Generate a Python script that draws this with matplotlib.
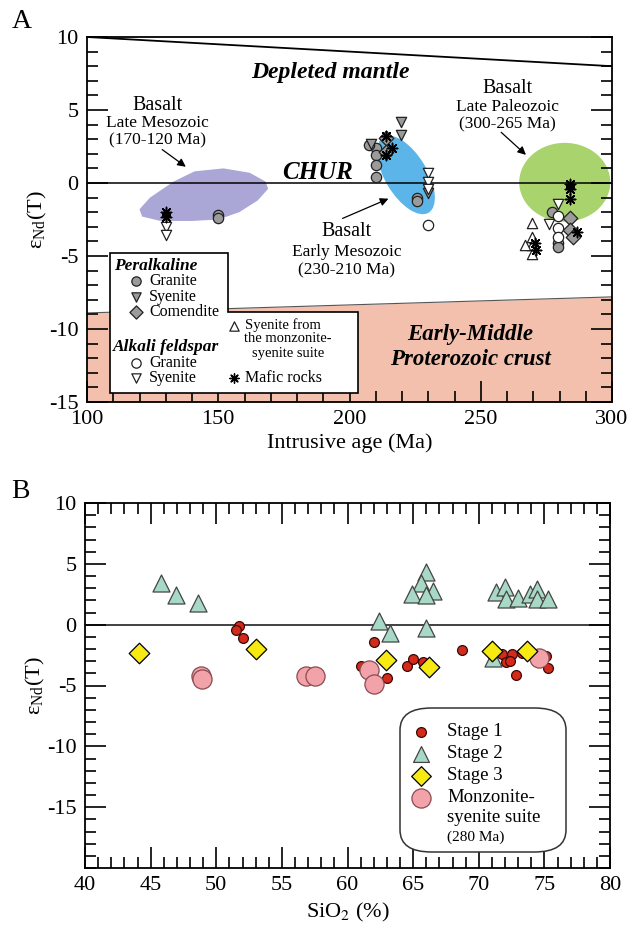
import numpy as np
import matplotlib
matplotlib.use("Agg")
import matplotlib.pyplot as plt
from matplotlib.patches import Ellipse, Polygon, FancyBboxPatch
from matplotlib import transforms

plt.rcParams['font.family'] = ['Liberation Serif', 'DejaVu Serif']
plt.rcParams['mathtext.fontset'] = 'stix'
plt.rcParams['axes.unicode_minus'] = False

# ---------------- Panel A data (age in Ma, eps Nd) ----------------
per_granite_age = [150, 150, 210, 210, 210, 210, 207.5, 225.6, 225.6, 277, 279.5, 279.5]
per_granite_eps = [-2.2, -2.4, 2.4, 1.9, 1.2, 0.4, 2.6, -1.0, -1.2, -2.0, -4.1, -4.4]
per_syenite_age = [219.6, 219.6, 208, 230]
per_syenite_eps = [4.2, 3.3, 2.7, -0.7]
comendite_age = [214, 214, 284, 284, 285]
comendite_eps = [3.1, 2.1, -2.4, -3.2, -3.7]
alk_granite_age = [230, 279.5, 279.5, 279.5]
alk_granite_eps = [-2.9, -2.25, -3.1, -3.7]
alk_syenite_age = [130, 130, 230, 230, 230, 279.5, 276]
alk_syenite_eps = [-3.0, -3.55, 0.7, 0.1, -0.4, -1.45, -2.8]
monz_syenite_age = [269.5, 269.5, 269.5, 269.5, 267]
monz_syenite_eps = [-2.75, -3.7, -4.25, -4.85, -4.25]
mafic_age = [130, 130, 214, 214, 216, 284, 284, 284, 286.7, 270.7, 271]
mafic_eps = [-2.0, -2.3, 3.2, 1.9, 2.4, -0.1, -0.4, -1.1, -3.35, -4.1, -4.6]

depleted_age = [100, 300]
depleted_eps = [10, 8]
crust_age = [100, 300]
crust_top = [-8.9, -7.8]

late_meso_field = [(120, -1.8), (124, -1.0), (133, 0.1), (141, 0.8), (152, 1.0),
                   (162, 0.7), (168, 0.1), (169, -0.4), (165, -1.2), (158, -2.0),
                   (150, -2.5), (140, -2.6), (128, -2.6), (121, -2.3)]

# ---------------- Panel B data (SiO2 %, eps Nd) ----------------
stage1_si = [51.75, 51.5, 52.0, 62.0, 61.0, 63.0, 64.5, 65.0, 65.75, 68.7, 71.75,
             72.1, 72.5, 72.4, 72.8, 73.3, 75.1, 75.3]
stage1_eps = [-0.15, -0.4, -1.1, -1.45, -3.4, -4.4, -3.4, -2.8, -3.1, -2.1, -2.4,
              -3.1, -2.4, -3.0, -4.1, -2.3, -2.6, -3.6]
stage2_si = [45.8, 46.9, 48.6, 66.0, 65.6, 66.5, 64.9, 66.0, 62.4, 63.2, 66.0,
             71.3, 72.0, 72.1, 73.0, 73.9, 74.4, 74.4, 75.3, 71.1]
stage2_eps = [3.4, 2.4, 1.8, 4.3, 3.4, 2.8, 2.5, 2.4, 0.3, -0.7, -0.25,
              2.65, 3.1, 2.15, 2.2, 2.55, 2.95, 2.15, 2.15, -2.7]
stage3_si = [44.1, 53.0, 62.9, 66.2, 71.0, 73.7]
stage3_eps = [-2.3, -2.0, -2.9, -3.5, -2.2, -2.2]
monz_si = [48.8, 48.9, 56.8, 57.5, 61.65, 62.0, 74.6]
monz_eps = [-4.2, -4.5, -4.2, -4.2, -3.7, -4.85, -2.7]

GRAY = '#9b9b9b'
EC = '#222222'

fig = plt.figure(figsize=(6.3, 9.33), dpi=100)
axA = fig.add_axes([87 / 630, 1 - 402 / 933, 525 / 630, 365 / 933])
axB = fig.add_axes([85 / 630, 1 - 868 / 933, 525 / 630, 365 / 933])


def style_ticks(ax, top=True):
    ax.tick_params(which='major', direction='in', length=15, width=1.2,
                   labelsize=16, right=True, top=top, pad=6)
    ax.tick_params(which='minor', direction='in', length=8, width=1.2,
                   right=True, top=top)
    for s in ax.spines.values():
        s.set_linewidth(1.3)


# ======================= Panel A =======================
ax = axA
ax.set_xlim(100, 300)
ax.set_ylim(-15, 10)
ax.set_xticks([100, 150, 200, 250, 300])
ax.set_xticks(np.arange(100, 301, 10), minor=True)
ax.set_yticks([-15, -10, -5, 0, 5, 10])
ax.set_yticks(np.arange(-15, 11, 1), minor=True)
style_ticks(ax, top=False)

ax.fill_between(crust_age, crust_top, [-15, -15], color='#f3c0ad', lw=0, zorder=1)
ax.plot(crust_age, crust_top, color='#555555', lw=0.8, zorder=1.5)
ax.plot(depleted_age, depleted_eps, color='black', lw=1.3, zorder=2)
ax.axhline(0, color='black', lw=1.1, zorder=2)

ax.add_patch(Polygon(late_meso_field, closed=True, fc='#aaa6d6', ec='none', zorder=1.2))
kx, ky = 2.625, 14.6  # pixels per data unit
tr = transforms.Affine2D().scale(1 / kx, 1 / ky).translate(221.5, 0.55) + ax.transData
ax.add_patch(Ellipse((0, 0), 88, 42, angle=-59, fc='#5cb5e8', ec='none', transform=tr, zorder=1.2))
ax.add_patch(Ellipse((282, 0.05), 34.7, 5.4, fc='#a9d36c', ec='none', zorder=1.2))

ax.text(192.6, 7.6, 'Depleted mantle', fontsize=17, fontweight='bold', style='italic',
        ha='center', va='center', zorder=3)
ax.text(188, 0.75, 'CHUR', fontsize=18, fontweight='bold', style='italic',
        ha='center', va='center', zorder=3)
ax.text(246, -10.4, 'Early-Middle', fontsize=16.5, fontweight='bold', style='italic',
        ha='center', va='center', zorder=3)
ax.text(246, -12.1, 'Proterozoic crust', fontsize=16.5, fontweight='bold', style='italic',
        ha='center', va='center', zorder=3)

for cx, ys, lines in [(127, [5.3, 4.1, 2.9], ['Basalt', 'Late Mesozoic', '(170-120 Ma)']),
                      (199, [-3.35, -4.7, -6.0], ['Basalt', 'Early Mesozoic', '(230-210 Ma)']),
                      (260, [6.5, 5.2, 4.0], ['Basalt', 'Late Paleozoic', '(300-265 Ma)'])]:
    for y, t, fs in zip(ys, lines, [14.5, 12.5, 12.5]):
        ax.text(cx, y, t, fontsize=fs, ha='center', va='center', zorder=3)

arrow = dict(arrowstyle='-|>', color='black', lw=0.9, mutation_scale=12)
ax.annotate('', xy=(138.5, 1.0), xytext=(127.8, 2.4), arrowprops=arrow, zorder=3)
ax.annotate('', xy=(215.8, -1.0), xytext=(196.4, -2.5), arrowprops=arrow, zorder=3)
ax.annotate('', xy=(268, 1.8), xytext=(257, 3.6), arrowprops=arrow, zorder=3)

ms = 55
ax.scatter(per_granite_age, per_granite_eps, s=ms, marker='o', fc=GRAY, ec=EC, lw=0.9, zorder=4)
ax.scatter(per_syenite_age, per_syenite_eps, s=ms, marker='v', fc=GRAY, ec=EC, lw=0.9, zorder=4)
ax.scatter(comendite_age, comendite_eps, s=ms, marker='D', fc=GRAY, ec=EC, lw=0.9, zorder=4)
ax.scatter(alk_granite_age, alk_granite_eps, s=ms, marker='o', fc='white', ec=EC, lw=0.9, zorder=4)
ax.scatter(alk_syenite_age, alk_syenite_eps, s=ms, marker='v', fc='white', ec=EC, lw=0.9, zorder=4)
ax.scatter(monz_syenite_age, monz_syenite_eps, s=ms, marker='^', fc='white', ec=EC, lw=0.9, zorder=4)
ax.scatter(mafic_age, mafic_eps, s=55, marker=(8, 2, 0), c='black', lw=1.1, zorder=5)

ax.set_xlabel('Intrusive age (Ma)', fontsize=16, labelpad=3)
ax.set_ylabel(r'$\mathregular{\varepsilon_{Nd}}$(T)', fontsize=16, labelpad=0)

# legend for panel A drawn as a notched box
def A(px, py):
    return ((px - 87) / 525, (402 - py) / 365)

box = [A(110, 253), A(228, 253), A(228, 312), A(358, 312), A(358, 393), A(110, 393)]
ax.add_patch(Polygon(box, closed=True, fc='white', ec='black', lw=1.2,
                     transform=ax.transAxes, zorder=6))
lfs = 11.5
tA = ax.transAxes
ax.text(*A(114, 266), 'Peralkaline', fontsize=12.5, fontweight='bold', style='italic',
        va='center', transform=tA, zorder=7)
ax.text(*A(113, 347), 'Alkali feldspar', fontsize=12.5, fontweight='bold', style='italic',
        va='center', transform=tA, zorder=7)
leg_items = [(281, 'o', GRAY, 'Granite'), (297, 'v', GRAY, 'Syenite'),
             (312, 'D', GRAY, 'Comendite'), (363, 'o', 'white', 'Granite'),
             (378, 'v', 'white', 'Syenite')]
for py, mk, fc, lab in leg_items:
    ax.scatter(*A(136, py), s=45, marker=mk, fc=fc, ec=EC, lw=0.9, transform=tA, zorder=7)
    ax.text(*A(149, py), lab, fontsize=lfs, va='center', transform=tA, zorder=7)
rfs = 10.5
ax.scatter(*A(234, 326), s=45, marker='^', fc='white', ec=EC, lw=0.9, transform=tA, zorder=7)
ax.text(*A(245, 325), 'Syenite from', fontsize=rfs, va='center', transform=tA, zorder=7)
ax.text(*A(288, 339), 'the monzonite-', fontsize=rfs, va='center', ha='center', transform=tA, zorder=7)
ax.text(*A(288, 353), 'syenite suite', fontsize=rfs, va='center', ha='center', transform=tA, zorder=7)
ax.scatter(*A(234, 378), s=45, marker=(8, 2, 0), c='black', lw=1.0, transform=tA, zorder=7)
ax.text(*A(245, 378), 'Mafic rocks', fontsize=lfs, va='center', transform=tA, zorder=7)

# ======================= Panel B =======================
ax = axB
ax.set_xlim(40, 80)
ax.set_ylim(-20, 10)
ax.set_xticks(np.arange(40, 81, 5))
ax.set_xticks(np.arange(40, 81, 1), minor=True)
ax.set_yticks([-15, -10, -5, 0, 5, 10])
ax.set_yticks(np.arange(-20, 11, 1), minor=True)
style_ticks(ax, top=True)
ax.axhline(0, color='#333333', lw=1.3, zorder=1)

ax.scatter(stage2_si, stage2_eps, s=150, marker='^', fc='#a7d9c6', ec='#444444', lw=0.9, zorder=3)
ax.scatter(stage1_si, stage1_eps, s=50, marker='o', fc='#d42a1c', ec='#3a0a06', lw=0.9, zorder=4)
ax.scatter(monz_si, monz_eps, s=190, marker='o', fc='#f2a3aa', ec='#8a4a50', lw=0.9, zorder=5)
ax.scatter(stage3_si, stage3_eps, s=110, marker='D', fc='#f6ea12', ec='black', lw=0.9, zorder=6)

ax.set_xlabel(r'SiO$_2$ (%)', fontsize=16, labelpad=4)
ax.set_ylabel(r'$\mathregular{\varepsilon_{Nd}}$(T)', fontsize=16, labelpad=0)


def B(px, py):
    return ((px - 85) / 525, (868 - py) / 365)


tB = ax.transAxes
x0, y0 = B(400, 852)
x1, y1 = B(566, 708)
ax.add_patch(FancyBboxPatch((x0, y0), x1 - x0, y1 - y0, boxstyle='round,pad=0,rounding_size=0.06',
                            fc='white', ec='#333333', lw=1.1, transform=tB, zorder=7,
                            mutation_aspect=1.0))
ax.scatter(*B(421, 732), s=50, marker='o', fc='#d42a1c', ec='#3a0a06', lw=0.9, transform=tB, zorder=8)
ax.scatter(*B(421, 754), s=130, marker='^', fc='#a7d9c6', ec='#444444', lw=0.9, transform=tB, zorder=8)
ax.scatter(*B(421, 776), s=100, marker='D', fc='#f6ea12', ec='black', lw=0.9, transform=tB, zorder=8)
ax.scatter(*B(421, 798), s=190, marker='o', fc='#f2a3aa', ec='#8a4a50', lw=0.9, transform=tB, zorder=8)
bfs = 13.5
ax.text(*B(447, 732), 'Stage 1', fontsize=bfs, va='center', transform=tB, zorder=8)
ax.text(*B(447, 754), 'Stage 2', fontsize=bfs, va='center', transform=tB, zorder=8)
ax.text(*B(447, 776), 'Stage 3', fontsize=bfs, va='center', transform=tB, zorder=8)
ax.text(*B(447, 798), 'Monzonite-', fontsize=bfs, va='center', transform=tB, zorder=8)
ax.text(*B(447, 818), 'syenite suite', fontsize=bfs, va='center', transform=tB, zorder=8)
ax.text(*B(447, 837), '(280 Ma)', fontsize=11, va='center', transform=tB, zorder=8)

fig.text(22 / 630, 1 - 22 / 933, 'A', fontsize=20, ha='center', va='center')
fig.text(20 / 630, 1 - 492 / 933, 'B', fontsize=20, ha='center', va='center')

fig.savefig('out.png', dpi=100)
